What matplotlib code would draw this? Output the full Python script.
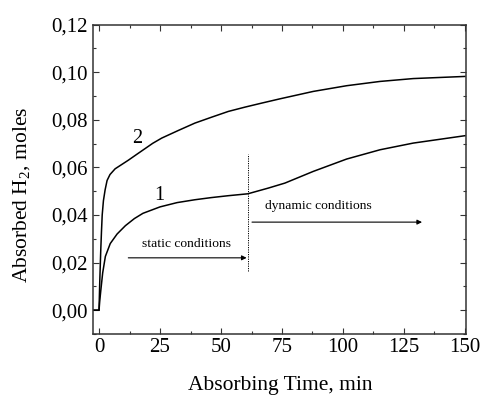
import matplotlib
matplotlib.use("Agg")
import matplotlib.pyplot as plt
from matplotlib.ticker import MultipleLocator, FixedLocator

# ---- data ----
curve1_t = [-2.6, 0, 0.3, 0.8, 1.5, 2.6, 4.6, 7.4, 10.8, 14.5, 18, 25, 32, 39.3, 46, 53, 61,
            69.4, 76.2, 87.8, 101.5, 115.2, 128.8, 150]
curve1_v = [0, 0, 0.004, 0.009, 0.0157, 0.0226, 0.028, 0.032, 0.0355, 0.0385, 0.0407, 0.0434,
            0.0452, 0.0464, 0.0473, 0.0481, 0.0489, 0.0513, 0.0534, 0.0583, 0.0635, 0.0674,
            0.0702, 0.0733]

curve2_t = [-2.6, 0, 0.3, 0.7, 1.0, 1.3, 1.8, 2.5, 3.3, 4.5, 6.6, 9, 12, 15.5, 18.9, 22, 25.7,
            32.5, 39.3, 46.2, 53, 59.8, 66.7, 74.2, 87.8, 101.5, 115.2, 128.8, 150]
curve2_v = [0, 0, 0.012, 0.025, 0.033, 0.040, 0.046, 0.0506, 0.0545, 0.0570, 0.0594, 0.0610,
            0.0630, 0.0655, 0.0679, 0.0701, 0.0723, 0.0755, 0.0786, 0.0811, 0.0835, 0.0853,
            0.0870, 0.0888, 0.0919, 0.0943, 0.0961, 0.0973, 0.0982]

curve_labels = ["1", "2"]
x_ticks = [0, 25, 50, 75, 100, 125, 150]
y_ticks = [0.00, 0.02, 0.04, 0.06, 0.08, 0.10, 0.12]
y_tick_labels = ["0,00", "0,02", "0,04", "0,06", "0,08", "0,10", "0,12"]
switch_time = 61
static_text = "static conditions"
dynamic_text = "dynamic conditions"

plt.rcParams['font.family'] = ['Liberation Serif', 'DejaVu Serif']
plt.rcParams['mathtext.fontset'] = 'custom'
plt.rcParams['mathtext.rm'] = 'Liberation Serif'

fig = plt.figure(figsize=(4.82, 3.95), dpi=100)
ax = fig.add_axes([0.1923, 0.1544, 0.7739, 0.7835])

ax.plot(curve1_t, curve1_v, color='black', lw=1.1)
ax.plot(curve2_t, curve2_v, color='black', lw=1.1)

ax.text(24.5, 0.0483, curve_labels[0], fontsize=14.5, ha='center', va='center')
ax.text(15.6, 0.0720, curve_labels[1], fontsize=14.5, ha='center', va='center')

# switch line
ax.plot([switch_time, switch_time], [0.0164, 0.0657], color='black', lw=0.7, ls=(0, (1.2, 1.2)))

# arrows
ax.annotate('', xy=(60.5, 0.022), xytext=(12, 0.022),
            arrowprops=dict(arrowstyle='-|>', lw=0.8, color='black', mutation_scale=7,
                            shrinkA=0, shrinkB=0))
ax.annotate('', xy=(132.4, 0.037), xytext=(62.7, 0.037),
            arrowprops=dict(arrowstyle='-|>', lw=0.8, color='black', mutation_scale=7,
                            shrinkA=0, shrinkB=0))
ax.text(35.9, 0.028, static_text, fontsize=9.7, ha='center', va='center')
ax.text(89.8, 0.0437, dynamic_text, fontsize=9.7, ha='center', va='center')

ax.set_xlim(-2.6, 150.3)
ax.set_ylim(-0.01, 0.12)
ax.xaxis.set_major_locator(FixedLocator(x_ticks))
ax.xaxis.set_minor_locator(MultipleLocator(12.5))
ax.yaxis.set_major_locator(FixedLocator(y_ticks))
ax.set_yticklabels(y_tick_labels)
ax.yaxis.set_minor_locator(MultipleLocator(0.01))

ax.tick_params(which='both', direction='in', top=True, right=True, width=0.8, color='#333333')
ax.tick_params(which='major', length=4, labelsize=15, pad=3.2)
ax.tick_params(which='minor', length=2.5)
for s in ax.spines.values():
    s.set_linewidth(1.1)
    s.set_color('#333333')

ax.set_xlabel('Absorbing Time, min', fontsize=15.5)
ax.set_ylabel('Absorbed H$_2$, moles', fontsize=15.5)
ax.xaxis.set_label_coords(0.502, -0.136)
ax.yaxis.set_label_coords(-0.160, 0.449)

fig.savefig('out.png', dpi=100)
